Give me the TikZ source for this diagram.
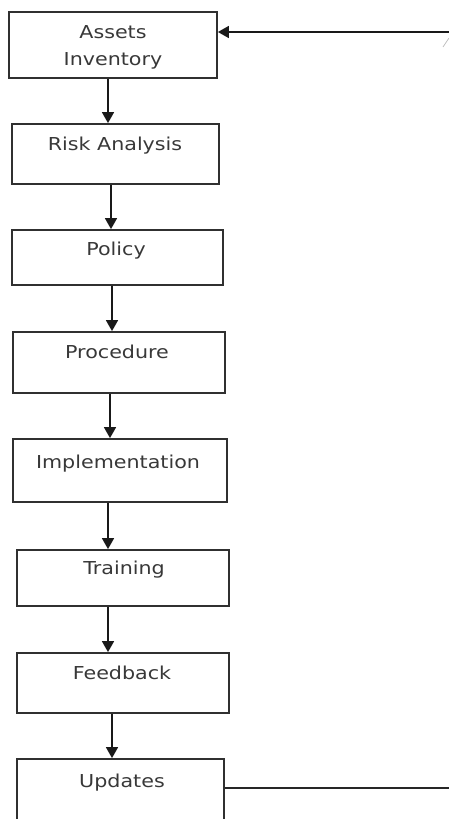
\documentclass[tikz,border=0pt]{standalone}
\usepackage{fontspec}
\setmainfont{DejaVu Sans}[FakeStretch=1.16]
\usetikzlibrary{arrows.meta}
\definecolor{boxline}{HTML}{303030}
\definecolor{txt}{HTML}{383838}
\begin{document}
\begin{tikzpicture}[x=1pt,y=-1pt,
  stepbox/.style={draw=boxline,line width=1.8pt,rectangle,inner sep=0pt},
  lbl/.style={text=txt,font=\fontsize{17.8}{22}\selectfont,inner sep=0pt,anchor=base},
  arr/.style={-{Triangle[length=11pt,width=12pt]},line width=1.6pt,draw=black!90},
  plain/.style={line width=1.6pt,draw=black!85}]
\useasboundingbox (0,0) rectangle (449,819);
% boxes
\node[stepbox,minimum width=208pt,minimum height=66pt] (b1) at (113,45) {};
\node[stepbox,minimum width=207pt,minimum height=60pt] (b2) at (115.5,154) {};
\node[stepbox,minimum width=211pt,minimum height=55pt] (b3) at (117.5,257.5) {};
\node[stepbox,minimum width=212pt,minimum height=61pt] (b4) at (119,362.5) {};
\node[stepbox,minimum width=214pt,minimum height=63pt] (b5) at (120,470.5) {};
\node[stepbox,minimum width=212pt,minimum height=56pt] (b6) at (123,578) {};
\node[stepbox,minimum width=212pt,minimum height=60pt] (b7) at (123,683) {};
\node[stepbox,minimum width=207pt,minimum height=70pt] (b8) at (120.5,794) {};
% labels
\node[lbl] (t1a) at (113,38.5) {Assets};
\node[lbl] (t1b) at (113,65) {Inventory};
\node[lbl] (t2) at (115,150) {Risk Analysis};
\node[lbl] (t3) at (116,255) {Policy};
\node[lbl] (t4) at (117,358) {Procedure};
\node[lbl] (t5) at (118,468) {Implementation};
\node[lbl] (t6) at (124,574) {Training};
\node[lbl] (t7) at (122,679) {Feedback};
\node[lbl] (t8) at (122,787) {Updates};
% arrows
\draw[arr] ([xshift=-5pt]b1.south) -- ([xshift=-5pt]b1.south |- b2.north);
\draw[arr] ([xshift=-4.5pt]b2.south) -- ([xshift=-4.5pt]b2.south |- b3.north);
\draw[arr] ([xshift=-5.5pt]b3.south) -- ([xshift=-5.5pt]b3.south |- b4.north);
\draw[arr] ([xshift=-9pt]b4.south) -- ([xshift=-9pt]b4.south |- b5.north);
\draw[arr] ([xshift=-12pt]b5.south) -- ([xshift=-12pt]b5.south |- b6.north);
\draw[arr] ([xshift=-15pt]b6.south) -- ([xshift=-15pt]b6.south |- b7.north);
\draw[arr] ([xshift=-11pt]b7.south) -- ([xshift=-11pt]b7.south |- b8.north);
% feedback loop ends
\coordinate (fbin) at (449,32);
\coordinate (fbout) at (449,788);
\draw[arr] (fbin) -- (fbin -| b1.east);
\draw[plain] (b8.east |- fbout) -- (fbout);
% small stray mark
\coordinate (s1) at (443,47);
\coordinate (s2) at (449,38);
\draw[gray!50,line width=0.8pt] (s1) -- (s2);
\end{tikzpicture}
\end{document}
